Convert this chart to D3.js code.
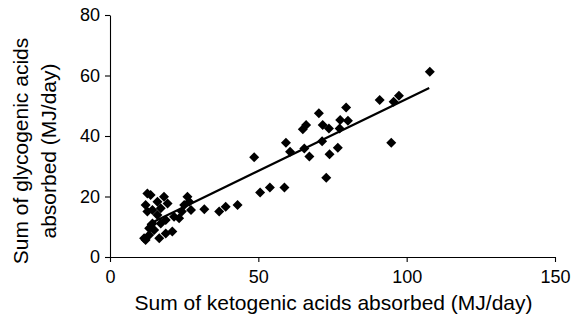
<!DOCTYPE html>
<html><head><meta charset="utf-8">
<script src="https://cdn.jsdelivr.net/npm/d3@7"></script>
<style>body{margin:0;background:#fff}svg{display:block}text{font-family:"Liberation Sans",Arial,sans-serif;fill:#000}</style>
</head><body>
<script>
const ketogenic = [12.6,13.7,18.2,16.0,12.0,19.4,26.1,26.7,25.0,14.3,12.6,17.1,16.0,24.2,21.6,23.3,27.3,18.8,17.1,14.3,13.2,14.9,21.0,18.8,13.2,11.5,12.0,16.6,
  31.8,36.8,39.0,43.0,50.6,53.9,58.8,48.6,59.3,60.7,65.5,67.2,66.1,65.0,70.4,71.7,73.8,71.5,76.8,74.0,72.9,77.6,80.2,77.4,79.6,90.9,95.6,97.4,94.8,107.8];
const glycogenic = [21.0,20.5,19.9,18.3,17.2,17.7,19.9,18.3,17.2,15.5,15.0,16.1,13.9,15.0,13.3,12.8,15.5,12.2,11.1,11.1,9.5,8.9,8.4,7.8,7.3,6.2,5.6,6.2,
  15.8,15.0,16.6,17.2,21.3,23.0,23.0,33.0,37.8,34.8,35.9,33.2,43.6,42.2,47.5,43.6,42.5,38.3,36.1,34.0,26.2,45.3,45.0,42.5,49.4,51.9,51.3,53.3,37.8,61.2];
const trendRange = [12.5, 107.6];
const trendSlope = 0.476, trendIntercept = 4.65;
const xTicks = [0,50,100,150];
const yTicks = [0,20,40,60,80];

const W=583,H=324, m={l:110,r:28,t:15,b:67};
const svg=d3.select("body").append("svg").attr("width",W).attr("height",H);
const x=d3.scaleLinear().domain([0,150]).range([m.l,W-m.r]);
const y=d3.scaleLinear().domain([0,80]).range([H-m.b,m.t]);

const gx=svg.append("g").attr("transform",`translate(0,${H-m.b})`)
  .call(d3.axisBottom(x).tickValues(xTicks).tickSize(5).tickSizeOuter(0).tickPadding(8));
const gy=svg.append("g").attr("transform",`translate(${m.l},0)`)
  .call(d3.axisLeft(y).tickValues(yTicks).tickSize(5).tickSizeOuter(0).tickPadding(5));
[gx,gy].forEach(g=>{g.selectAll("path,line").attr("stroke","#000").attr("stroke-width",1.1);
  g.selectAll("text").style("font-size","18px").attr("font-family","Liberation Sans, Arial, sans-serif");});

svg.append("line").attr("x1",x(trendRange[0])).attr("y1",y(trendIntercept+trendSlope*trendRange[0]))
  .attr("x2",x(trendRange[1])).attr("y2",y(trendIntercept+trendSlope*trendRange[1]))
  .attr("stroke","#000").attr("stroke-width",2.2);

const sym=d3.symbol().type(d3.symbolSquare).size(50);
svg.append("g").selectAll("path").data(ketogenic.map((k,i)=>[k,glycogenic[i]])).join("path")
  .attr("d",sym).attr("fill","#000")
  .attr("transform",d=>`translate(${x(d[0])},${y(d[1])}) rotate(45)`);

svg.append("text").attr("x",(x(0)+x(150))/2+1).attr("y",310).attr("text-anchor","middle")
  .style("font-size","21px").text("Sum of ketogenic acids absorbed (MJ/day)");
const yt=svg.append("text").attr("transform",`translate(28,151) rotate(-90)`).attr("text-anchor","middle").style("font-size","21px");
yt.append("tspan").attr("x",0).attr("dy",0).text("Sum of glycogenic acids");
yt.append("tspan").attr("x",0).attr("dy",28).text("absorbed (MJ/day)");
</script>
</body></html>
